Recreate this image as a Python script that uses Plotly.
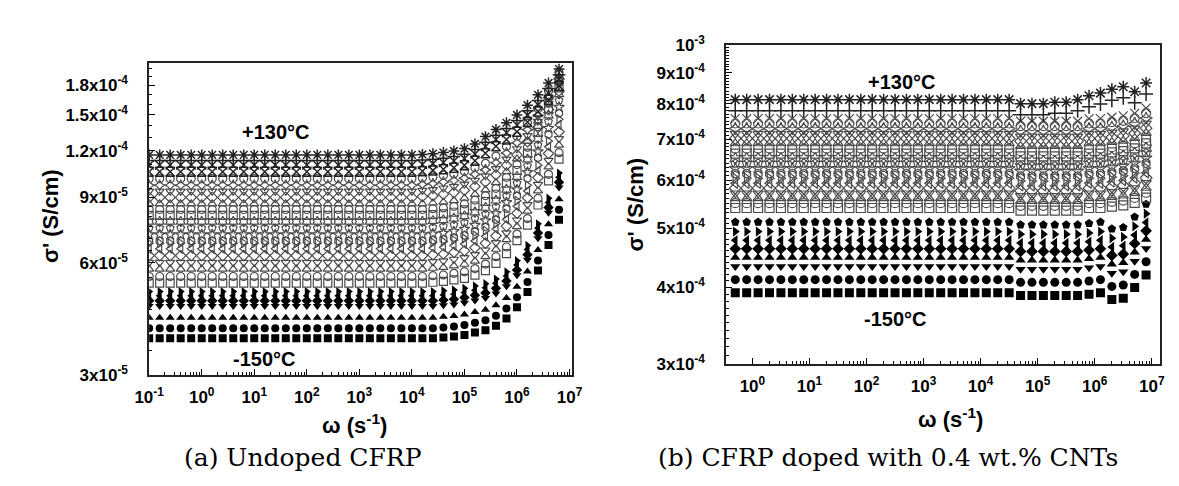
import math
import plotly.graph_objects as go

W, H = 1179, 486

# ---------------- data ----------------
TEMPS = [-150, -140, -130, -120, -110, -100, -90, -80, -70, -60, -50, -40, -30, -20, -10,
         0, 10, 20, 30, 40, 50, 60, 70, 80, 90, 100, 110, 120, 130]

# (a) undoped CFRP: log10(omega) grid
LOGW_A = [-1.0, -0.8, -0.6, -0.4, -0.2, 0.0, 0.2, 0.4, 0.6, 0.8, 1.0, 1.2, 1.4, 1.6, 1.8,
          2.0, 2.2, 2.4, 2.6, 2.8, 3.0, 3.2, 3.4, 3.6, 3.8,
          4.0, 4.2, 4.4, 4.6, 4.8, 5.0, 5.2, 5.4, 5.6, 5.8, 6.0, 6.2, 6.4, 6.6, 6.8]
N_FLAT_A = 25
# low-frequency plateau of sigma' (S/cm), -150 .. +130 C
PLATEAU_A = [3.77e-5, 4.01e-5, 4.28e-5, 4.60e-5, 4.75e-5, 4.90e-5, 5.03e-5,
             5.30e-5, 5.52e-5, 5.78e-5, 6.02e-5, 6.28e-5, 6.55e-5, 6.78e-5, 6.88e-5,
             7.15e-5, 7.45e-5, 7.75e-5, 8.05e-5, 8.35e-5, 8.65e-5,
             9.00e-5, 9.35e-5, 9.70e-5, 1.01e-4,
             1.055e-4, 1.10e-4, 1.13e-4, 1.17e-4]
# high-frequency rise relative to plateau (log w = 4.0 ... 6.8)
TAIL_A_BLACK = [1.0, 1.0, 1.0, 1.005, 1.01, 1.02, 1.035, 1.05, 1.08, 1.13, 1.21, 1.33, 1.52, 1.78, 2.08]
TAIL_A_LOW = [1.0, 1.0, 1.005, 1.01, 1.02, 1.03, 1.05, 1.08, 1.13, 1.20, 1.30, 1.43, 1.62, 1.88, 2.15]
TAIL_A_MID = [1.0, 1.0, 1.005, 1.01, 1.02, 1.035, 1.06, 1.09, 1.14, 1.22, 1.32, 1.47, 1.67, 1.93, 2.2]
TAIL_A_UP = [1.0, 1.005, 1.01, 1.02, 1.03, 1.045, 1.07, 1.10, 1.15, 1.22, 1.30, 1.41, 1.54, 1.72, 1.93]
TAIL_A_TOP = [1.0, 1.003, 1.008, 1.015, 1.025, 1.04, 1.07, 1.12, 1.17, 1.22, 1.28, 1.36, 1.45, 1.56, 1.70]
TAILCLASS_A = ["black"] * 7 + ["low"] * 7 + ["mid"] * 7 + ["up"] * 4 + ["top"] * 4

# (b) CFRP + 0.4 wt.% CNTs
LOGW_B = [-0.3, -0.1, 0.1, 0.3, 0.5, 0.7, 0.9, 1.1, 1.3, 1.5, 1.7, 1.9, 2.1, 2.3, 2.5,
          2.7, 2.9, 3.1, 3.3, 3.5, 3.7, 3.9, 4.1, 4.3, 4.5,
          4.7, 4.9, 5.1, 5.3, 5.5, 5.7, 5.9, 6.1, 6.3, 6.5, 6.7, 6.9]
N_FLAT_B = 25
PLATEAU_B = [3.92e-4, 4.12e-4, 4.33e-4, 4.48e-4, 4.63e-4, 4.78e-4, 4.94e-4, 5.12e-4,
             5.40e-4, 5.50e-4, 5.60e-4, 5.71e-4, 5.82e-4, 5.93e-4, 6.04e-4, 6.15e-4,
             6.27e-4, 6.39e-4, 6.51e-4, 6.63e-4, 6.76e-4, 6.89e-4, 7.02e-4, 7.15e-4,
             7.29e-4, 7.43e-4, 7.57e-4,
             7.80e-4, 8.13e-4]
TAIL_B_BLACK = [0.99, 0.99, 0.99, 0.99, 0.99, 0.99, 0.995, 1.0, 0.975, 0.98, 1.02, 1.07]
TAIL_B_HOLLOW = [0.99, 0.99, 0.99, 0.99, 0.99, 0.99, 1.0, 1.0, 1.005, 1.01, 1.02, 1.04]
TAIL_B_TOP = [0.985, 0.985, 0.985, 0.99, 0.99, 1.0, 1.015, 1.025, 1.04, 1.05, 1.03, 1.065]
TAILCLASS_B = ["black"] * 8 + ["hollow"] * 19 + ["top"] * 2

# ---------------- styles ----------------
SYM_A = ["square", "circle", "triangle-up", "triangle-down", "diamond", "triangle-left", "triangle-right",
         "square-open", "circle-open", "triangle-up-open", "triangle-down-open", "diamond-open",
         "triangle-left-open", "triangle-right-open", "hexagon-open", "star-open", "pentagon-open",
         "hexagram-open", "square-open", "circle-open", "triangle-up-open", "diamond-open",
         "triangle-down-open", "star-diamond-open", "circle-open", "hourglass-open",
         "x-thin-open", "cross-thin-open", "asterisk-open"]
SYM_B = ["square", "circle", "triangle-down", "triangle-up", "diamond", "triangle-left", "triangle-right",
         "pentagon",
         "square-open", "circle-open", "triangle-up-open", "triangle-down-open", "diamond-open",
         "triangle-left-open", "triangle-right-open", "hexagon-open", "star-open", "pentagon-open",
         "hexagram-open", "square-open", "circle-open", "triangle-up-open", "diamond-open",
         "triangle-down-open", "star-diamond-open", "circle-open", "x-thin-open",
         "cross-thin-open", "asterisk-open"]

TAILS_A = {"black": TAIL_A_BLACK, "low": TAIL_A_LOW, "mid": TAIL_A_MID, "up": TAIL_A_UP, "top": TAIL_A_TOP}
TAILS_B = {"black": TAIL_B_BLACK, "hollow": TAIL_B_HOLLOW, "top": TAIL_B_TOP}

fig = go.Figure()


def marker_style(sym, cls, size):
    if not sym.endswith("-open"):
        return dict(symbol=sym, color="black", size=size, line=dict(width=0))
    if cls == "top":
        return dict(symbol=sym, color="#222222", size=size + 1, line=dict(width=1.5, color="#222222"))
    return dict(symbol=sym, color="#4a4a4a", size=size, line=dict(width=1.2, color="#4a4a4a"))


for i, t in enumerate(TEMPS):
    cls = TAILCLASS_A[i]
    vals = [PLATEAU_A[i]] * N_FLAT_A + [PLATEAU_A[i] * r for r in TAILS_A[cls]]
    fig.add_trace(go.Scatter(x=[10 ** v for v in LOGW_A], y=vals, mode="markers",
                             name=f"{t}°C", marker=marker_style(SYM_A[i], cls, 8),
                             xaxis="x", yaxis="y", showlegend=False))

for i, t in enumerate(TEMPS):
    cls = TAILCLASS_B[i]
    vals = [PLATEAU_B[i]] * N_FLAT_B + [PLATEAU_B[i] * r for r in TAILS_B[cls]]
    fig.add_trace(go.Scatter(x=[10 ** v for v in LOGW_B], y=vals, mode="markers",
                             name=f"{t}°C", marker=marker_style(SYM_B[i], cls, 9),
                             xaxis="x2", yaxis="y2", showlegend=False))

# ---------------- axes ----------------
TICKFONT = dict(family="Liberation Sans, Arial, sans-serif", size=17, color="black", weight="bold")
XT_A = [-1, 0, 1, 2, 3, 4, 5, 6, 7]
XT_B = [0, 1, 2, 3, 4, 5, 6, 7]
YT_A = [3e-5, 6e-5, 9e-5, 1.2e-4, 1.5e-4, 1.8e-4]
YT_A_TXT = ["3x10<sup>-5</sup>", "6x10<sup>-5</sup>", "9x10<sup>-5</sup>",
            "1.2x10<sup>-4</sup>", "1.5x10<sup>-4</sup>", "1.8x10<sup>-4</sup>"]
YT_B = [3e-4, 4e-4, 5e-4, 6e-4, 7e-4, 8e-4, 9e-4, 1e-3]
YT_B_TXT = ["3x10<sup>-4</sup>", "4x10<sup>-4</sup>", "5x10<sup>-4</sup>", "6x10<sup>-4</sup>",
            "7x10<sup>-4</sup>", "8x10<sup>-4</sup>", "9x10<sup>-4</sup>", "10<sup>-3</sup>"]


def minor_log(k0, k1):
    return [m * 10 ** k for k in range(k0, k1) for m in range(2, 10)]


ymin_a = [v * 1e-6 for v in range(35, 100, 5)] + [v * 1e-5 for v in range(11, 21)]
ymin_b = [v * 1e-5 for v in range(31, 100)]


def xax(domain, rng, tv, anchor):
    return dict(type="log", range=rng, domain=domain, anchor=anchor,
                tickvals=[10 ** k for k in tv], ticktext=[f"10<sup>{k}</sup>" for k in tv],
                ticks="inside", ticklen=6, tickwidth=1, tickcolor="black",
                showline=True, linecolor="#222", linewidth=1.6, mirror=True,
                showgrid=False, zeroline=False, tickfont=TICKFONT, ticklabelstandoff=6,
                minor=dict(ticks="inside", ticklen=3, tickcolor="black", tickwidth=1,
                           tickvals=minor_log(tv[0], tv[-1]), showgrid=False))


def yax(domain, rng, tv, tt, anchor, mins):
    return dict(type="log", range=rng, domain=domain, anchor=anchor,
                tickvals=tv, ticktext=tt,
                ticks="inside", ticklen=6, tickwidth=1, tickcolor="black",
                showline=True, linecolor="#222", linewidth=1.6, mirror=True,
                showgrid=False, zeroline=False, tickfont=TICKFONT, ticklabelstandoff=16,
                minor=dict(ticks="inside", ticklen=3, tickcolor="black", tickwidth=1,
                           tickvals=mins, showgrid=False))


fig.update_layout(
    width=W, height=H, margin=dict(l=0, r=0, t=0, b=0),
    paper_bgcolor="white", plot_bgcolor="white", showlegend=False,
    xaxis=xax([129 / W, 561 / W], [-1.0, 7.04], XT_A, "y"),
    yaxis=yax([1 - 372 / H, 1 - 45 / H], [math.log10(3e-5), -3.685], YT_A, YT_A_TXT, "x", ymin_a),
    xaxis2=xax([719 / W, 1163 / W], [-0.46, 7.15], XT_B, "y2"),
    yaxis2=yax([1 - 360 / H, 1 - 26 / H], [math.log10(3e-4), -3.0], YT_B, YT_B_TXT, "x2", ymin_b),
)

LBL = dict(family="Liberation Sans, Arial, sans-serif", size=22, color="black", weight="bold")
ANN = dict(family="Liberation Sans, Arial, sans-serif", size=20, color="black", weight="bold")
CAP = dict(family="DejaVu Serif, serif", size=25, color="black")


def ann(x, y, text, font, angle=0):
    fig.add_annotation(x=x / W, y=1 - y / H, xref="paper", yref="paper", text=text,
                       showarrow=False, font=font, textangle=angle,
                       xanchor="center", yanchor="middle")


ann(259, 117, "+130°C", ANN)
ann(246, 355, "-150°C", ANN)
ann(899, 65, "+130°C", ANN)
ann(892, 313, "-150°C", ANN)
ann(339, 423, "ω (s<sup>-1</sup>)", LBL)
ann(948, 417, "ω (s<sup>-1</sup>)", LBL)
ann(28, 205, "σ' (S/cm)", LBL, -90)
ann(626, 193, "σ' (S/cm)", LBL, -90)
ann(286, 458, "(a) Undoped CFRP", CAP)
ann(884, 458, "(b) CFRP doped with 0.4 wt.% CNTs", CAP)

fig.write_html("out.html")
